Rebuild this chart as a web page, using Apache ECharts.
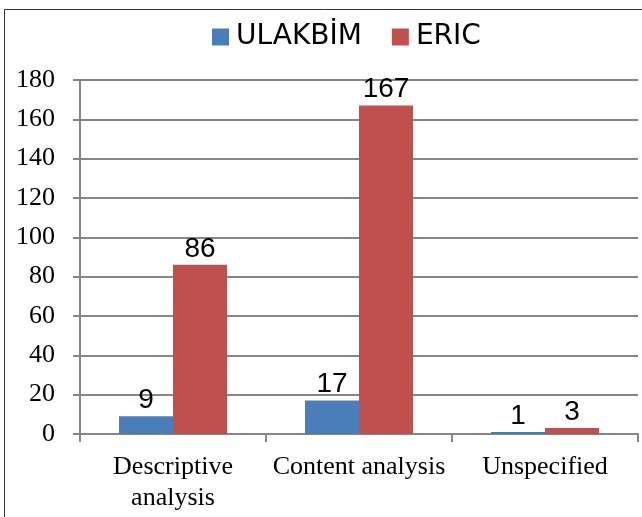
<!DOCTYPE html>
<html>
<head>
<meta charset="utf-8">
<script src="https://cdn.jsdelivr.net/npm/echarts@6/dist/echarts.min.js"></script>
<style>
  html, body { margin: 0; padding: 0; background: #fff; }
  #chart { width: 642px; height: 517px; }
</style>
</head>
<body>
<div id="chart"></div>
<script>
const categories = ['Descriptive\nanalysis', 'Content analysis', 'Unspecified']
const ulakbim = [9, 17, 1]
const eric = [86, 167, 3]
const yTicks = { min: 0, max: 180, interval: 20 }

let myChart = echarts.init(document.getElementById('chart'))
let labelStyle = {
    show: true,
    position: 'top',
    distance: 2,
    color: '#000',
    fontSize: 28,
    fontFamily: 'Liberation Sans'
}
let option = {
    animation: false,
    color: ['#4A7EBB', '#C0504D'],
    graphic: [
        // frame of the original figure (left and top edges)
        { type: 'line', shape: { x1: 4.5, y1: 9.5, x2: 4.5, y2: 517 }, style: { stroke: '#333', lineWidth: 1 } },
        { type: 'line', shape: { x1: 4.5, y1: 9.5, x2: 642, y2: 9.5 }, style: { stroke: '#333', lineWidth: 1 } }
    ],
    legend: {
        top: 18,
        left: 207,
        itemWidth: 17,
        itemHeight: 17,
        itemGap: 30,
        icon: 'rect',
        textStyle: { fontSize: 28, color: '#000', fontFamily: 'DejaVu Sans', padding: [0, 0, 0, 2] },
        data: ['ULAKBİM', 'ERIC']
    },
    grid: { left: 80, right: 4, top: 80, bottom: 83 },
    xAxis: {
        type: 'category',
        data: categories,
        axisLine: { lineStyle: { color: '#868686', width: 2 } },
        axisTick: { show: true, length: 8, lineStyle: { color: '#868686', width: 2 } },
        axisLabel: {
            color: '#000',
            fontSize: 26,
            fontFamily: 'Liberation Serif',
            lineHeight: 31,
            margin: 18,
            interval: 0
        }
    },
    yAxis: {
        type: 'value',
        min: yTicks.min,
        max: yTicks.max,
        interval: yTicks.interval,
        axisLine: { show: true, lineStyle: { color: '#868686', width: 2 } },
        axisTick: { show: true, length: 7, lineStyle: { color: '#868686', width: 2 } },
        splitLine: { lineStyle: { color: '#868686', width: 2 } },
        axisLabel: {
            color: '#000',
            fontSize: 26,
            fontFamily: 'Liberation Serif',
            margin: 25
        }
    },
    series: [
        { name: 'ULAKBİM', type: 'bar', data: ulakbim, barWidth: 54, barGap: '0%', label: labelStyle },
        { name: 'ERIC', type: 'bar', data: eric, barWidth: 54, barGap: '0%', label: labelStyle }
    ]
}
myChart.setOption(option)
</script>
</body>
</html>
